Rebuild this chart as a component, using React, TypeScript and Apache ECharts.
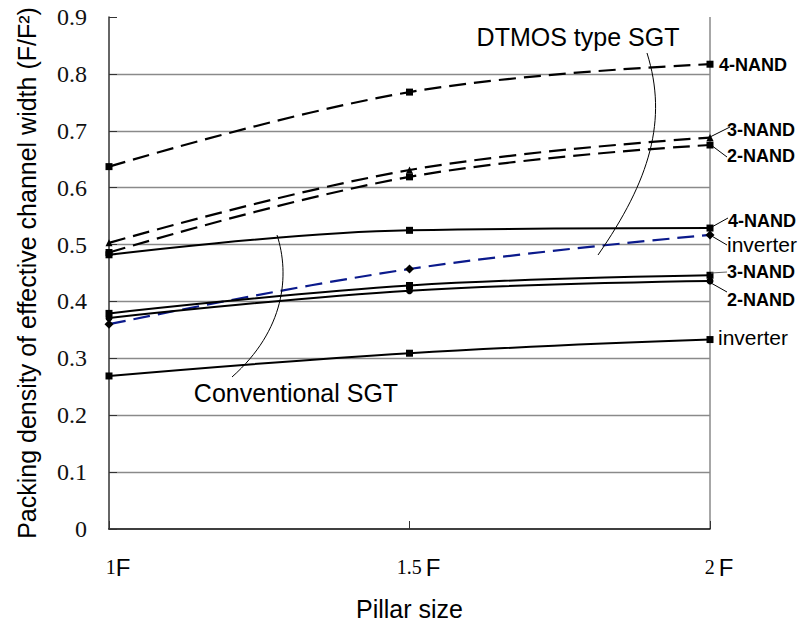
import React, { useEffect, useRef } from "react";
import * as echarts from "echarts";

const pillarSizes = [1, 1.5, 2];
const xTickLabels: Record<string, string> = { "1": "{n|1}{f|F}", "1.5": "{n|1.5}{g|}{f|F}", "2": "{n|2}{g|}{f|F}" };

const dtmos4NAND = [0.637, 0.768, 0.817];
const dtmos3NAND = [0.503, 0.631, 0.688];
const dtmos2NAND = [0.486, 0.619, 0.675];
const dtmosInverter = [0.36, 0.457, 0.517];
const conv4NAND = [0.482, 0.525, 0.529];
const conv3NAND = [0.379, 0.428, 0.446];
const conv2NAND = [0.371, 0.419, 0.436];
const convInverter = [0.269, 0.309, 0.333];

const endLabels = ["4-NAND", "3-NAND", "2-NAND", "4-NAND", "inverter", "3-NAND", "2-NAND", "inverter"];
const yAxisTitle = "Packing density of effective channel width (F/F\u00B2)";
const xAxisTitle = "Pillar size";
const dtmosNote = "DTMOS type SGT";
const convNote = "Conventional SGT";

const pts = (vals: number[]) => pillarSizes.map((x, i) => [x, vals[i]]);

export default function App() {
  const ref = useRef<HTMLDivElement>(null);
  useEffect(() => {
    document.body.style.margin = "0";
    if (!ref.current) return;
    const chart = echarts.init(ref.current, null, { renderer: "svg" });
    const dashed = { type: [17, 8] as any, width: 2.2, color: "#000" };
    const solid = { type: "solid" as any, width: 2, color: "#000" };
    const mk = (name: string, vals: number[], line: any, symbol: string, size: number) => ({
      name,
      type: "line",
      data: pts(vals),
      smooth: 0.4,
      symbol,
      symbolSize: size,
      showAllSymbol: true,
      lineStyle: line,
      itemStyle: { color: "#000" },
    });
    const bold = { fontFamily: "Liberation Sans", fontSize: 18, fontWeight: "bold", fill: "#000" };
    const norm = { fontFamily: "Liberation Sans", fontSize: 21, fill: "#000" };
    const lead = (x1: number, y1: number, x2: number, y2: number, c = "#000") => ({
      type: "line",
      shape: { x1, y1, x2, y2 },
      style: { stroke: c, lineWidth: 1 },
      z: 100,
    });
    const txt = (x: number, y: number, text: string, st: any) => ({
      type: "text",
      x,
      y,
      style: { ...st, text, verticalAlign: "middle" },
      z: 100,
    });
    chart.setOption({
      animation: false,
      backgroundColor: "#fff",
      grid: { left: 109, right: 93, top: 17, bottom: 96, containLabel: false },
      xAxis: {
        type: "value",
        min: 1,
        max: 2,
        interval: 0.5,
        name: xAxisTitle,
        nameLocation: "middle",
        nameGap: 67,
        nameTextStyle: { fontFamily: "Liberation Sans", fontSize: 25, color: "#000" },
        axisLine: { lineStyle: { color: "#000", width: 1.5 } },
        axisTick: { inside: true, length: 8, lineStyle: { color: "#333", width: 1 } },
        splitLine: { show: true, lineStyle: { color: ["transparent", "transparent", "#8a8a8a"], width: 1.5 } },
        axisLabel: {
          margin: 26,
          padding: [0, 0, 0, 18],
          formatter: (v: number) => xTickLabels[String(v)] ?? String(v),
          rich: {
            n: { fontFamily: "Liberation Serif", fontSize: 20, color: "#000" },
            f: { fontFamily: "Liberation Sans", fontSize: 24, color: "#000" },
            g: { width: 4 },
          },
        },
      },
      yAxis: {
        type: "value",
        min: 0,
        max: 0.9,
        interval: 0.1,
        name: yAxisTitle,
        nameLocation: "middle",
        nameGap: 70,
        nameTextStyle: { fontFamily: "Liberation Sans", fontSize: 25, color: "#000" },
        axisLine: { show: true, lineStyle: { color: "#333", width: 1.5 } },
        axisTick: { show: true, inside: true, length: 8, lineStyle: { color: "#333" } },
        splitLine: {
          show: true,
          lineStyle: {
            color: ["transparent", "#8a8a8a", "#8a8a8a", "#8a8a8a", "#8a8a8a", "#8a8a8a", "#8a8a8a", "#8a8a8a", "#8a8a8a", "transparent"],
            width: 1.3,
          },
        },
        axisLabel: {
          margin: 22,
          fontFamily: "Liberation Serif",
          fontSize: 24,
          color: "#111",
          formatter: (v: number) => (v === 0 ? "0" : v.toFixed(1)),
        },
      },
      series: [
        mk("DTMOS 4-NAND", dtmos4NAND, dashed, "rect", 7),
        mk("DTMOS 3-NAND", dtmos3NAND, dashed, "triangle", 7),
        mk("DTMOS 2-NAND", dtmos2NAND, dashed, "rect", 7),
        mk("DTMOS inverter", dtmosInverter, { ...dashed, color: "#0b1a8c" }, "diamond", 9),
        mk("Conv 4-NAND", conv4NAND, solid, "rect", 7),
        mk("Conv 3-NAND", conv3NAND, solid, "rect", 7),
        mk("Conv 2-NAND", conv2NAND, solid, "circle", 7),
        mk("Conv inverter", convInverter, solid, "rect", 7),
      ],
      graphic: [
        txt(719, 65, endLabels[0], bold),
        lead(708, 138, 730, 127),
        txt(727, 130, endLabels[1], bold),
        lead(711, 145, 727, 157),
        txt(727, 156, endLabels[2], bold),
        lead(710, 228, 728, 218),
        txt(728, 221, endLabels[3], bold),
        lead(710, 235, 727, 245),
        txt(727, 244, endLabels[4], norm),
        lead(711, 273, 727, 272, "#666"),
        txt(727, 272, endLabels[5], bold),
        lead(711, 283, 727, 292),
        txt(727, 300, endLabels[6], bold),
        txt(718, 337, endLabels[7], norm),
        {
          type: "text",
          x: 578,
          y: 37,
          style: { text: dtmosNote, fontFamily: "Liberation Sans", fontSize: 25, fill: "#000", align: "center", verticalAlign: "middle" },
          z: 100,
        },
        {
          type: "text",
          x: 296,
          y: 393,
          style: { text: convNote, fontFamily: "Liberation Sans", fontSize: 25, fill: "#000", align: "center", verticalAlign: "middle" },
          z: 100,
        },
        {
          type: "bezierCurve",
          shape: { x1: 647, y1: 53, cpx1: 668, cpy1: 120, cpx2: 650, cpy2: 180, x2: 598, y2: 255 },
          style: { stroke: "#000", lineWidth: 1, fill: "none" },
          z: 100,
        },
        {
          type: "bezierCurve",
          shape: { x1: 277, y1: 235, cpx1: 290, cpy1: 275, cpx2: 285, cpy2: 330, x2: 232, y2: 377 },
          style: { stroke: "#000", lineWidth: 1, fill: "none" },
          z: 100,
        },
      ],
    });
    return () => chart.dispose();
  }, []);
  return <div ref={ref} style={{ width: 803, height: 626 }} />;
}
